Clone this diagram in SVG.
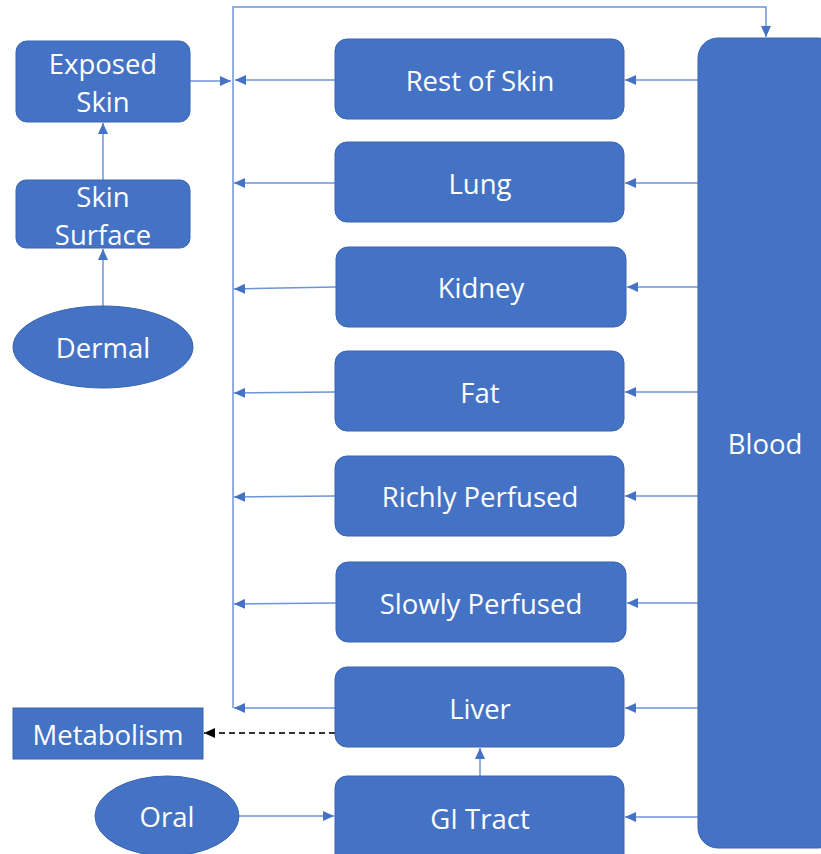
<svg xmlns="http://www.w3.org/2000/svg" width="821" height="854" viewBox="0 0 821 854">
<style>
.n{fill:#4472C4;stroke:#3A64B0;stroke-width:1}
.t{font-family:"Open Sans","Noto Sans",sans-serif;font-size:27.5px;fill:#FFFFFF;text-anchor:middle;dominant-baseline:central}
.c{fill:none;stroke:#6D94DA;stroke-width:1.5}
.d{fill:none;stroke:#333333;stroke-width:2;stroke-dasharray:6,4}
</style>
<defs>
<marker id="a" markerUnits="userSpaceOnUse" markerWidth="12" markerHeight="10" refX="11" refY="5" orient="auto">
<path d="M0,0 L11,5 L0,10 Z" fill="#4472C4"/>
</marker>
<marker id="b" markerUnits="userSpaceOnUse" markerWidth="12" markerHeight="10" refX="11" refY="5" orient="auto">
<path d="M0,0 L11,5 L0,10 Z" fill="#000000"/>
</marker>
</defs>
<rect width="821" height="854" fill="#FFFFFF"/>
<g id="connectors">
<path class="c" d="M233,708 L233,7 L766,7 L766,37" marker-end="url(#a)"/>
<path class="c" d="M190,81 L231,81" marker-end="url(#a)"/>
<path class="c" d="M335,80 L235,80" marker-end="url(#a)"/>
<path class="c" d="M335,183 L234,183" marker-end="url(#a)"/>
<path class="c" d="M336,287 L234,289" marker-end="url(#a)"/>
<path class="c" d="M335,392 L234,393" marker-end="url(#a)"/>
<path class="c" d="M335,496 L234,497" marker-end="url(#a)"/>
<path class="c" d="M336,603 L234,604" marker-end="url(#a)"/>
<path class="c" d="M335,708 L234,708" marker-end="url(#a)"/>
<path class="c" d="M698,80 L625,80" marker-end="url(#a)"/>
<path class="c" d="M698,183 L625,183" marker-end="url(#a)"/>
<path class="c" d="M698,287 L627,287" marker-end="url(#a)"/>
<path class="c" d="M698,392 L625,392" marker-end="url(#a)"/>
<path class="c" d="M698,496 L625,496" marker-end="url(#a)"/>
<path class="c" d="M698,603 L627,603" marker-end="url(#a)"/>
<path class="c" d="M698,708 L625,708" marker-end="url(#a)"/>
<path class="c" d="M698,817 L625,817" marker-end="url(#a)"/>
<path class="c" d="M103,180 L103,123" marker-end="url(#a)"/>
<path class="c" d="M103,306 L103,249" marker-end="url(#a)"/>
<path class="c" d="M239,816 L334,816" marker-end="url(#a)"/>
<path class="c" d="M480,776 L480,748" marker-end="url(#a)"/>
<path class="d" d="M335,733 L204,733" marker-end="url(#b)"/>
</g>
<g id="exposed-skin"><rect class="n" x="16" y="41" width="174" height="81" rx="11"/><text class="t" x="103" y="63">Exposed</text><text class="t" x="103" y="101">Skin</text></g>
<g id="skin-surface"><rect class="n" x="16" y="180" width="174" height="68" rx="10"/><text class="t" x="103" y="196">Skin</text><text class="t" x="103" y="234">Surface</text></g>
<g id="dermal"><ellipse class="n" cx="103" cy="347" rx="90" ry="41"/><text class="t" x="103" y="347">Dermal</text></g>
<g id="rest-of-skin"><rect class="n" x="335" y="39" width="289" height="80" rx="12"/><text class="t" x="480" y="80">Rest of Skin</text></g>
<g id="lung"><rect class="n" x="335" y="142" width="289" height="80" rx="12"/><text class="t" x="480" y="183">Lung</text></g>
<g id="kidney"><rect class="n" x="336" y="247" width="290" height="80" rx="12"/><text class="t" x="481" y="287">Kidney</text></g>
<g id="fat"><rect class="n" x="335" y="351" width="289" height="80" rx="12"/><text class="t" x="480" y="392">Fat</text></g>
<g id="richly-perfused"><rect class="n" x="335" y="456" width="289" height="80" rx="12"/><text class="t" x="480" y="496">Richly Perfused</text></g>
<g id="slowly-perfused"><rect class="n" x="336" y="562" width="290" height="80" rx="12"/><text class="t" x="481" y="603">Slowly Perfused</text></g>
<g id="liver"><rect class="n" x="335" y="667" width="289" height="80" rx="12"/><text class="t" x="480" y="708">Liver</text></g>
<g id="gi-tract"><rect class="n" x="335" y="776" width="289" height="90" rx="12"/><text class="t" x="480" y="818">GI Tract</text></g>
<g id="blood"><rect class="n" x="698" y="38" width="140" height="810" rx="20"/><text class="t" x="765" y="443">Blood</text></g>
<g id="metabolism"><rect class="n" x="13" y="708" width="190" height="51"/><text class="t" x="108" y="734">Metabolism</text></g>
<g id="oral"><ellipse class="n" cx="167" cy="816" rx="72" ry="40"/><text class="t" x="167" y="816">Oral</text></g>
</svg>
